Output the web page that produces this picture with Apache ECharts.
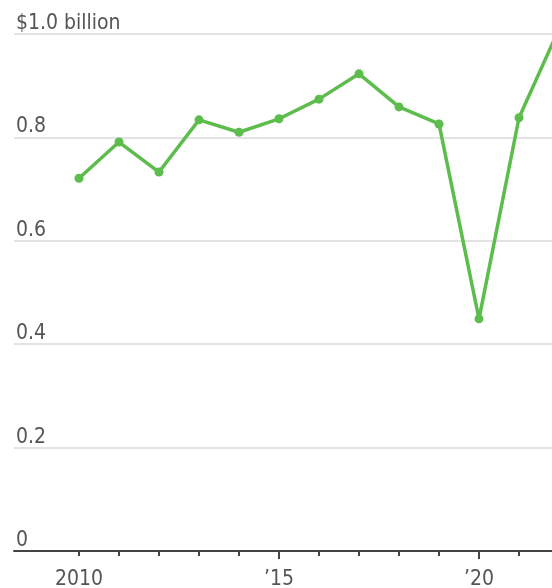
<!DOCTYPE html>
<html>
<head>
<meta charset="utf-8">
<script src="https://cdn.jsdelivr.net/npm/echarts@6/dist/echarts.min.js"></script>
<style>
  html, body { margin: 0; padding: 0; background: #fff; }
  #chart { width: 552px; height: 588px; }
</style>
</head>
<body>
<div id="chart"></div>
<script>
// data
var years = [2010, 2011, 2012, 2013, 2014, 2015, 2016, 2017, 2018, 2019, 2020, 2021, 2022];
var values = [0.721, 0.791, 0.733, 0.834, 0.810, 0.836, 0.874, 0.923, 0.859, 0.826, 0.449, 0.838, 1.01];
var tickYears = [2010, 2011, 2012, 2013, 2014, 2015, 2016, 2017, 2018, 2019, 2020, 2021, 2022];
var labelYears = [2010, 2015, 2020];

var font = '"DejaVu Sans Condensed"';

var myChart = echarts.init(document.getElementById('chart'));

var option = {
    animation: false,
    grid: { left: 14, top: 34, width: 545, height: 517, outerBoundsMode: 'none' },
    xAxis: [
        {
            type: 'value',
            min: 2008.375,
            max: 2022,
            splitLine: { show: false },
            axisLine: { show: true, lineStyle: { color: '#444', width: 2 } },
            axisTick: { show: true, customValues: tickYears, length: 5, lineStyle: { color: '#444', width: 2 } },
            axisLabel: {
                customValues: labelYears,
                margin: 18,
                fontFamily: font,
                fontSize: 21,
                color: '#555',
                formatter: function (v) {
                    return v === 2010 ? '2010' : '\u2019' + String(v).slice(2);
                }
            }
        },
        {
            type: 'value',
            position: 'bottom',
            min: 2008.375,
            max: 2022,
            splitLine: { show: false },
            axisLine: { show: false },
            axisTick: { show: true, customValues: [2015, 2020], length: 8, lineStyle: { color: '#444', width: 2 } },
            axisLabel: { show: false }
        }
    ],
    yAxis: {
        type: 'value',
        min: 0,
        max: 1.0,
        interval: 0.2,
        axisLine: { show: false },
        axisTick: { show: false },
        splitLine: { lineStyle: { color: '#e3e3e3', width: 2 } },
        axisLabel: {
            inside: true,
            margin: 2,
            verticalAlign: 'bottom',
            fontFamily: font,
            fontSize: 21,
            color: '#555',
            formatter: function (v) {
                if (v === 0) return '0';
                if (v === 1) return '$1.0 billion';
                return v.toFixed(1);
            }
        }
    },
    series: [
        {
            type: 'line',
            clip: false,
            data: years.map(function (y, i) { return [y, values[i]]; }),
            symbol: 'circle',
            symbolSize: 9,
            lineStyle: { color: '#5dbd4c', width: 3.5 },
            itemStyle: { color: '#5dbd4c' }
        }
    ]
};

myChart.setOption(option);
</script>
</body>
</html>
